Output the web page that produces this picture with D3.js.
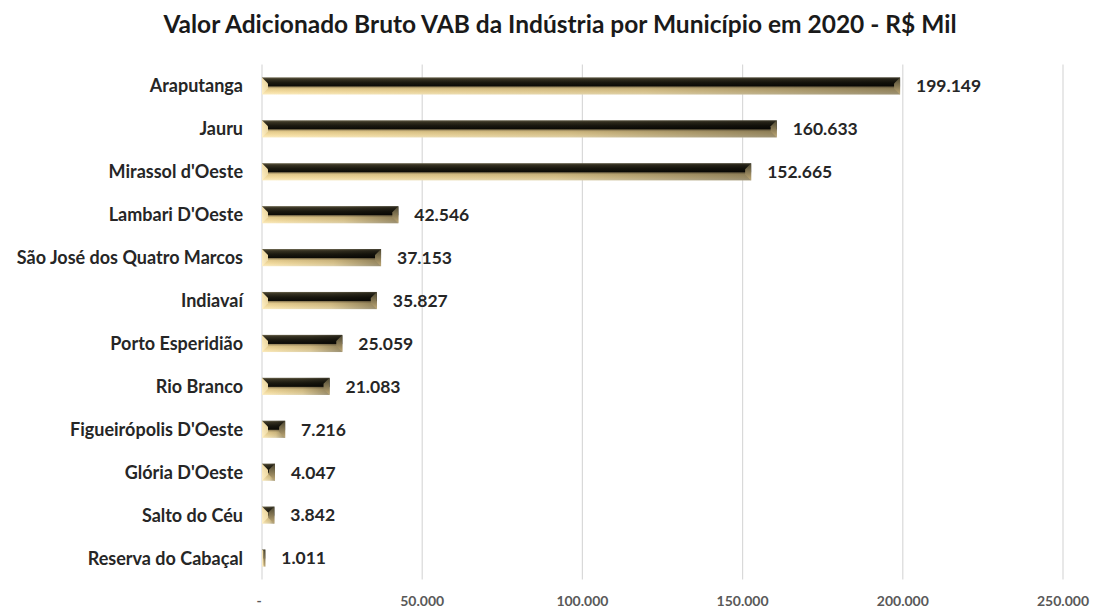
<!DOCTYPE html>
<html>
<head>
<meta charset="utf-8">
<script src="https://cdn.jsdelivr.net/npm/d3@7"></script>
<style>
  body { margin: 0; background: #fff; }
  text { font-family: Lato, "Open Sans", sans-serif; }
</style>
</head>
<body>
<svg id="chart"></svg>
<script>
const municipios = [
    'Araputanga', 'Jauru', "Mirassol d'Oeste", "Lambari D'Oeste",
    'São José dos Quatro Marcos', 'Indiavaí', 'Porto Esperidião', 'Rio Branco',
    "Figueirópolis D'Oeste", "Glória D'Oeste", 'Salto do Céu', 'Reserva do Cabaçal'
];
const vab = [199149, 160633, 152665, 42546, 37153, 35827, 25059, 21083, 7216, 4047, 3842, 1011];
const ticks = [0, 50000, 100000, 150000, 200000, 250000];
const titulo = 'Valor Adicionado Bruto VAB da Indústria por Município em 2020 - R$ Mil';

const chartWidth = 1093, chartHeight = 608;
const plotLeft = 262, plotRight = 1063, plotTop = 64.5, plotBottom = 579.5;

const ptBR = d3.formatLocale({ decimal: ",", thousands: ".", grouping: [3], currency: ["R$", ""] });
const fmt = ptBR.format(",.0f");

const data = municipios.map((m, i) => ({ name: m, value: vab[i] }));

const svg = d3.select("#chart").attr("width", chartWidth).attr("height", chartHeight);

const x = d3.scaleLinear().domain([0, 250000]).range([plotLeft, plotRight]);
const y = d3.scaleBand().domain(municipios).range([plotTop, plotBottom]).paddingInner(0.6).paddingOuter(0.3);

const defs = svg.append("defs");
const vg = defs.append("linearGradient").attr("id", "barV").attr("x1", 0).attr("y1", 0).attr("x2", 0).attr("y2", 1);
[["0%", "#6e6850"], ["10%", "#3a3524"], ["30%", "#1c1a10"], ["50%", "#0d0c07"], ["56%", "#a89466"],
 ["66%", "#e4cb8c"], ["85%", "#f5dea2"], ["100%", "#fbecc0"]]
    .forEach(s => vg.append("stop").attr("offset", s[0]).attr("stop-color", s[1]));

const hg = defs.append("linearGradient").attr("id", "barH").attr("x1", 0).attr("y1", 0).attr("x2", 1).attr("y2", 0);
[["0%", 0], ["60%", 0.12], ["100%", 0.38]]
    .forEach(s => hg.append("stop").attr("offset", s[0]).attr("stop-color", "#000").attr("stop-opacity", s[1]));

const lb = defs.append("linearGradient").attr("id", "bevL").attr("x1", 0).attr("y1", 1).attr("x2", 1).attr("y2", 0);
[["0%", "#fff1c8"], ["100%", "#e6cf95"]]
    .forEach(s => lb.append("stop").attr("offset", s[0]).attr("stop-color", s[1]));

const rb = defs.append("linearGradient").attr("id", "bevR").attr("x1", 0).attr("y1", 0).attr("x2", 0).attr("y2", 1);
[["0%", "#4a4530"], ["100%", "#c2ab78"]]
    .forEach(s => rb.append("stop").attr("offset", s[0]).attr("stop-color", s[1]));

// grid
svg.append("g").selectAll("line").data(ticks).enter().append("line")
    .attr("x1", d => x(d)).attr("x2", d => x(d))
    .attr("y1", plotTop).attr("y2", plotBottom)
    .attr("stroke", "#d9d9d9").attr("stroke-width", 1.2);

// tick labels
svg.append("g").selectAll("text").data(ticks).enter().append("text")
    .attr("x", d => x(d) + (d === 0 ? -3 : 0))
    .attr("y", 606)
    .attr("text-anchor", "middle")
    .style("font-size", "14px").style("font-weight", "bold")
    .style("fill", "#595959")
    .text(d => d === 0 ? "-" : fmt(d));

// bars
const bars = svg.append("g").selectAll("g").data(data).enter().append("g");
bars.each(function(d) {
    const g = d3.select(this);
    const x0 = x(0), x1 = x(d.value), y0 = y(d.name), h = y.bandwidth(), y1 = y0 + h;
    const w = x1 - x0;
    const b = Math.min(6, w / 2, h / 2);
    g.append("rect").attr("x", x0).attr("y", y0).attr("width", w).attr("height", h).attr("fill", "url(#barV)");
    g.append("rect").attr("x", x0).attr("y", y0).attr("width", w).attr("height", h).attr("fill", "url(#barH)");
    g.append("polygon")
        .attr("points", [[x0, y0], [x0 + b, y0 + b], [x0 + b, y1 - b], [x0, y1]].join(" "))
        .attr("fill", "url(#bevL)");
    g.append("polygon")
        .attr("points", [[x1, y0], [x1 - b, y0 + b], [x1 - b, y1 - b], [x1, y1]].join(" "))
        .attr("fill", "url(#bevR)");
});

// value labels
svg.append("g").selectAll("text").data(data).enter().append("text")
    .attr("x", d => x(d.value) + 16)
    .attr("y", d => y(d.name) + y.bandwidth() / 2)
    .attr("dy", "0.36em")
    .style("font-size", "17.5px").style("font-weight", "bold")
    .style("fill", "#262626")
    .text(d => fmt(d.value));

// category labels
svg.append("g").selectAll("text").data(data).enter().append("text")
    .attr("x", 243)
    .attr("y", d => y(d.name) + y.bandwidth() / 2)
    .attr("dy", "0.36em")
    .attr("text-anchor", "end")
    .style("font-size", "18px").style("font-weight", "bold")
    .style("fill", "#262626")
    .text(d => d.name);

// title
svg.append("text")
    .attr("x", 560).attr("y", 33)
    .attr("text-anchor", "middle")
    .style("font-size", "24.5px").style("font-weight", "bold")
    .style("fill", "#1a1a1a")
    .text(titulo);
</script>
</body>
</html>
